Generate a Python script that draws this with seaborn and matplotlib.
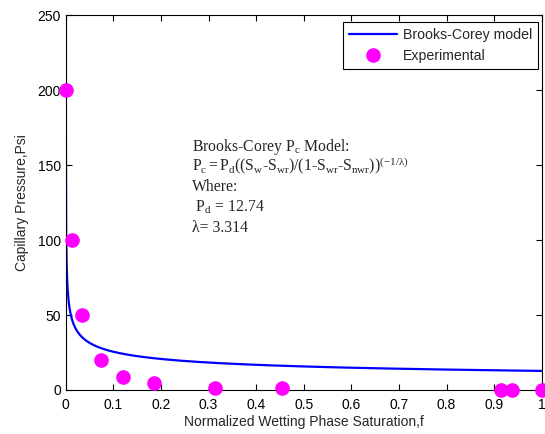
import numpy as np
import pandas as pd
import matplotlib
matplotlib.use("Agg")
import matplotlib.pyplot as plt
import seaborn as sns

# Experimental capillary pressure measurements
sat_exp = [0.0, 0.0126, 0.034, 0.074, 0.12, 0.186, 0.314, 0.455, 0.915, 0.937, 1.0]
pc_exp = [200, 100, 50, 20, 9, 4.5, 1.5, 1.0, 0.0, 0.0, 0.0]

# Brooks-Corey fit parameters
pd_entry = 12.74
lam = 3.314

x_ticks = [0, 0.1, 0.2, 0.3, 0.4, 0.5, 0.6, 0.7, 0.8, 0.9, 1]
x_tick_labels = ["0", "0.1", "0.2", "0.3", "0.4", "0.5", "0.6", "0.7", "0.8", "0.9", "1"]
y_ticks = [0, 50, 100, 150, 200, 250]

# Model curve from the fitted parameters, starting where it reaches the top measurement
s_start = (max(pc_exp) / pd_entry) ** (-lam)
sat_model = np.concatenate([[s_start], np.linspace(0.001, 1.0, 1000)])
pc_model = pd_entry * sat_model ** (-1.0 / lam)

model_df = pd.DataFrame({"Sw": sat_model, "Pc": pc_model})
exp_df = pd.DataFrame({"Sw": sat_exp, "Pc": pc_exp})

sns.set_style("ticks")
plt.rcParams["font.family"] = ["Liberation Sans", "DejaVu Sans"]
plt.rcParams["mathtext.fontset"] = "custom"
plt.rcParams["mathtext.rm"] = "Liberation Serif"
plt.rcParams["mathtext.it"] = "Liberation Serif:italic"

fig = plt.figure(figsize=(5.45, 4.34), dpi=100)
ax = fig.add_axes([0.1206, 0.1014, 0.8734, 0.8633])

sns.lineplot(data=model_df, x="Sw", y="Pc", ax=ax, color="#0000ff", linewidth=1.6,
             label="Brooks-Corey model", sort=False, zorder=2)
ax.plot(exp_df["Sw"], exp_df["Pc"], linestyle="none", marker="o", markersize=9.5,
        color="#ff00ff", markeredgecolor="#ff00ff", label="Experimental", zorder=3,
        clip_on=False)

ax.set_xlim(0, 1)
ax.set_ylim(0, 250)
ax.set_xticks(x_ticks)
ax.set_xticklabels(x_tick_labels)
ax.set_yticks(y_ticks)
ax.tick_params(direction="in", length=4, width=0.8, top=True, right=True,
               labelsize=10, colors="black")
ax.tick_params(axis="x", pad=5.5)
ax.tick_params(axis="y", pad=3.4)
for s in ax.spines.values():
    s.set_visible(True)
    s.set_linewidth(0.8)
    s.set_color("black")

ax.set_xlabel("Normalized Wetting Phase Saturation,f", fontsize=10, labelpad=2.5)
ax.set_ylabel("Capillary Pressure,Psi", fontsize=10, labelpad=6.5)

leg = ax.legend(loc="upper right", bbox_to_anchor=(0.9872, 0.9486),
                bbox_transform=fig.transFigure, borderaxespad=0,
                fontsize=10.2, frameon=True, fancybox=False,
                edgecolor="black", framealpha=1, handlelength=3.4,
                handletextpad=0.45, borderpad=0.4, labelspacing=0.5)
leg.get_frame().set_linewidth(0.8)

serif = ["Liberation Serif", "DejaVu Serif"]
lines = [
    r"Brooks-Corey $\mathrm{P_c}$ Model:",
    r"$\mathrm{P_c = P_d((S_w\text{-}S_{wr})/(1\text{-}S_{wr}\text{-}S_{nwr}))^{(-1/\lambda)}}$",
    "Where:",
    r" $\mathrm{P_d}$ = 12.74",
    "\u03bb= 3.314",
]
for i, t in enumerate(lines):
    fig.text(0.353, 0.6528 - i * 0.0467, t, fontsize=11.3, family=serif, va="baseline")

fig.savefig("out.png", dpi=100)
